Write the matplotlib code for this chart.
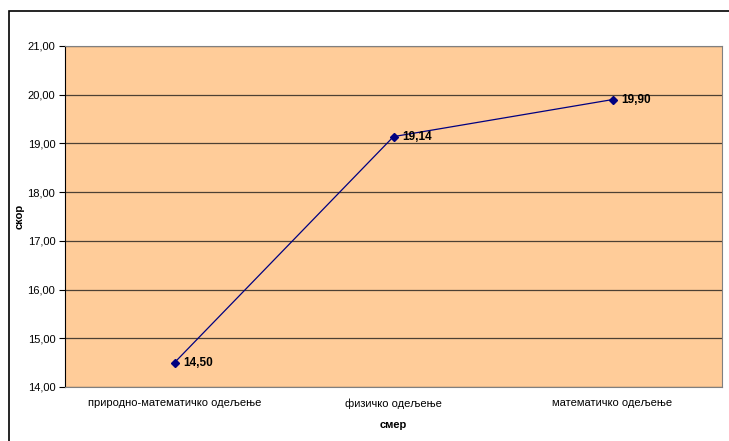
import matplotlib
matplotlib.use('agg')
import matplotlib.pyplot as plt
from matplotlib.patches import Rectangle

plt.rcParams['font.family'] = ['Liberation Sans', 'DejaVu Sans']

categories = ['природно-математичко одељење', 'физичко одељење', 'математичко одељење']
scores = [14.50, 19.14, 19.90]
yticks = [14, 15, 16, 17, 18, 19, 20, 21]

fig = plt.figure(figsize=(7.29, 4.41), dpi=100)
# outer chart border (runs off the right and bottom edge)
fig.patches.append(Rectangle((9 / 729, -0.05), 1.0, (441 - 11) / 441 + 0.05,
                             transform=fig.transFigure, fill=False,
                             edgecolor='black', linewidth=1.2))

ax = fig.add_axes([65 / 729, 54 / 441, 657 / 729, 341 / 441])
ax.set_facecolor('#FFCC99')

x = list(range(len(categories)))
ax.plot(x, scores, color='#000080', linewidth=0.9, marker='D', markersize=4.5, zorder=3)
for xi, v in zip(x, scores):
    ax.annotate('{:.2f}'.format(v).replace('.', ','), (xi, v), xytext=(6, 0),
                textcoords='offset points', fontsize=8.5, fontweight='bold',
                va='center')

ax.set_xlim(-0.5, 2.5)
ax.set_ylim(14, 21)
ax.set_yticks(yticks)
ax.set_yticklabels(['{:.2f}'.format(t).replace('.', ',') for t in yticks], fontsize=8)
ax.set_xticks(x)
ax.set_xticklabels(categories, fontsize=8)
ax.tick_params(axis='x', length=0, pad=8)
ax.tick_params(axis='y', length=4, direction='out', pad=3)
ax.grid(axis='y', color='#4d4033', linewidth=0.9)
ax.set_axisbelow(True)

for side in ['top', 'right', 'bottom']:
    ax.spines[side].set_color('#808080')
ax.spines['left'].set_color('black')

ax.set_xlabel('смер', fontsize=8, fontweight='bold', labelpad=8)
ax.set_ylabel('скор', fontsize=8, fontweight='bold', labelpad=2)

fig.savefig('out.png', dpi=100)
